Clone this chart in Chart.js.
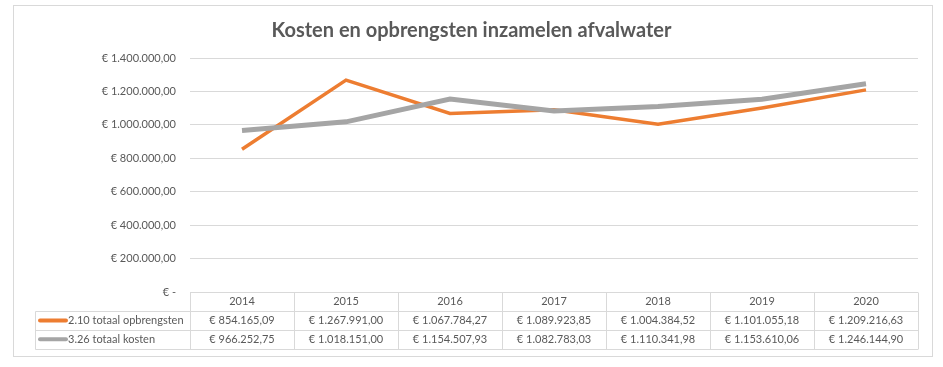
<!DOCTYPE html>
<html>
<head>
<meta charset="utf-8">
<script src="https://cdn.jsdelivr.net/npm/chart.js@4/dist/chart.umd.min.js"></script>
<style>
  body { margin: 0; background: #fff; }
</style>
</head>
<body>
<canvas id="afvalChart" width="943" height="367"></canvas>
<script>
// data
var years = ['2014', '2015', '2016', '2017', '2018', '2019', '2020'];
var opbrengsten = [854165.09, 1267991.00, 1067784.27, 1089923.85, 1004384.52, 1101055.18, 1209216.63];
var kosten = [966252.75, 1018151.00, 1154507.93, 1082783.03, 1110341.98, 1153610.06, 1246144.90];
var seriesNames = ['2.10 totaal opbrengsten', '3.26 totaal kosten'];

var txtColor = '#595959';
var lineGrey = '#d9d9d9';
var fontName = 'Lato, "Open Sans", sans-serif';

// euro format like Excel: € 1.234.567,89
function euro(v) {
  if (v === 0) return '€ -';
  var parts = v.toFixed(2).split('.');
  var whole = parts[0].replace(/\B(?=(\d{3})+(?!\d))/g, '.');
  return '€ ' + whole + ',' + parts[1];
}

// outer frame + data table under the plot
var tablePlugin = {
  id: 'tablePlugin',
  beforeDraw: function(chart) {
    var c = chart.ctx;
    c.save();
    c.fillStyle = '#fff';
    c.fillRect(0, 0, chart.width, chart.height);
    c.strokeStyle = lineGrey;
    c.lineWidth = 1;
    c.strokeRect(13.5, 5.5, 919, 351);
    c.restore();
  },
  afterDraw: function(chart) {
    var c = chart.ctx;
    var xs = chart.scales.x;
    var area = chart.chartArea;
    var colW = (area.right - area.left) / years.length;
    var top = Math.round(area.bottom) + 0.5;
    var rowH = 18.7;
    var legLeft = 35.5;
    c.save();
    c.strokeStyle = lineGrey;
    c.lineWidth = 1;
    c.beginPath();
    // horizontal lines
    c.moveTo(area.left, top); c.lineTo(area.right, top);
    for (var r = 1; r <= 3; r++) {
      var y = Math.round(top + rowH * r) + 0.5;
      c.moveTo(legLeft, y); c.lineTo(area.right, y);
    }
    // vertical lines
    for (var i = 0; i <= years.length; i++) {
      var x = Math.round(area.left + colW * i) + 0.5;
      c.moveTo(x, top); c.lineTo(x, Math.round(top + rowH * 3) + 0.5);
    }
    c.moveTo(legLeft, Math.round(top + rowH) + 0.5);
    c.lineTo(legLeft, Math.round(top + rowH * 3) + 0.5);
    c.stroke();

    c.font = '11px ' + fontName;
    c.fillStyle = txtColor;
    c.textAlign = 'center';
    c.textBaseline = 'middle';
    var rows = [opbrengsten, kosten];
    for (var j = 0; j < years.length; j++) {
      var cx = xs.getPixelForValue(j);
      c.fillText(years[j], cx, top + rowH * 0.5);
      for (var k = 0; k < rows.length; k++) {
        c.fillText(euro(rows[k][j]), cx, top + rowH * (k + 1.5));
      }
    }
    // legend keys
    c.textAlign = 'left';
    for (var k = 0; k < rows.length; k++) {
      var ds = chart.data.datasets[k === 0 ? 1 : 0];
      var ly = top + rowH * (k + 1.5);
      c.strokeStyle = ds.borderColor;
      c.lineWidth = 4;
      c.lineCap = 'round';
      c.beginPath();
      c.moveTo(40, ly); c.lineTo(66, ly);
      c.stroke();
      c.fillText(seriesNames[k], 68, ly);
    }
    c.restore();
  }
};

var ctx = document.getElementById('afvalChart').getContext('2d');
var afvalChart = new Chart(ctx, {
  type: 'line',
  data: {
    labels: years,
    datasets: [{
      label: seriesNames[1],
      data: kosten,
      borderColor: '#a5a5a5',
      borderWidth: 5,
      pointRadius: 0,
      tension: 0,
      fill: false
    }, {
      label: seriesNames[0],
      data: opbrengsten,
      borderColor: '#ed7d31',
      borderWidth: 3.5,
      pointRadius: 0,
      tension: 0,
      fill: false
    }]
  },
  options: {
    responsive: false,
    animation: false,
    layout: {
      padding: { top: 0, right: 25, bottom: 75, left: 25 }
    },
    plugins: {
      legend: { display: false },
      tooltip: { enabled: false },
      title: {
        display: true,
        text: 'Kosten en opbrengsten inzamelen afvalwater',
        color: txtColor,
        font: { family: fontName, size: 20, weight: 'bold' },
        padding: { top: 19, bottom: 15 }
      }
    },
    scales: {
      x: {
        display: false,
        offset: true
      },
      y: {
        min: 0,
        max: 1400000,
        border: { display: false },
        grid: { color: lineGrey, drawTicks: false },
        ticks: {
          stepSize: 200000,
          color: txtColor,
          padding: 14,
          font: { family: fontName, size: 11 },
          callback: function(v) { return euro(v); }
        },
        afterFit: function(scale) { scale.width = 165; }
      }
    }
  },
  plugins: [tablePlugin]
});
</script>
</body>
</html>
